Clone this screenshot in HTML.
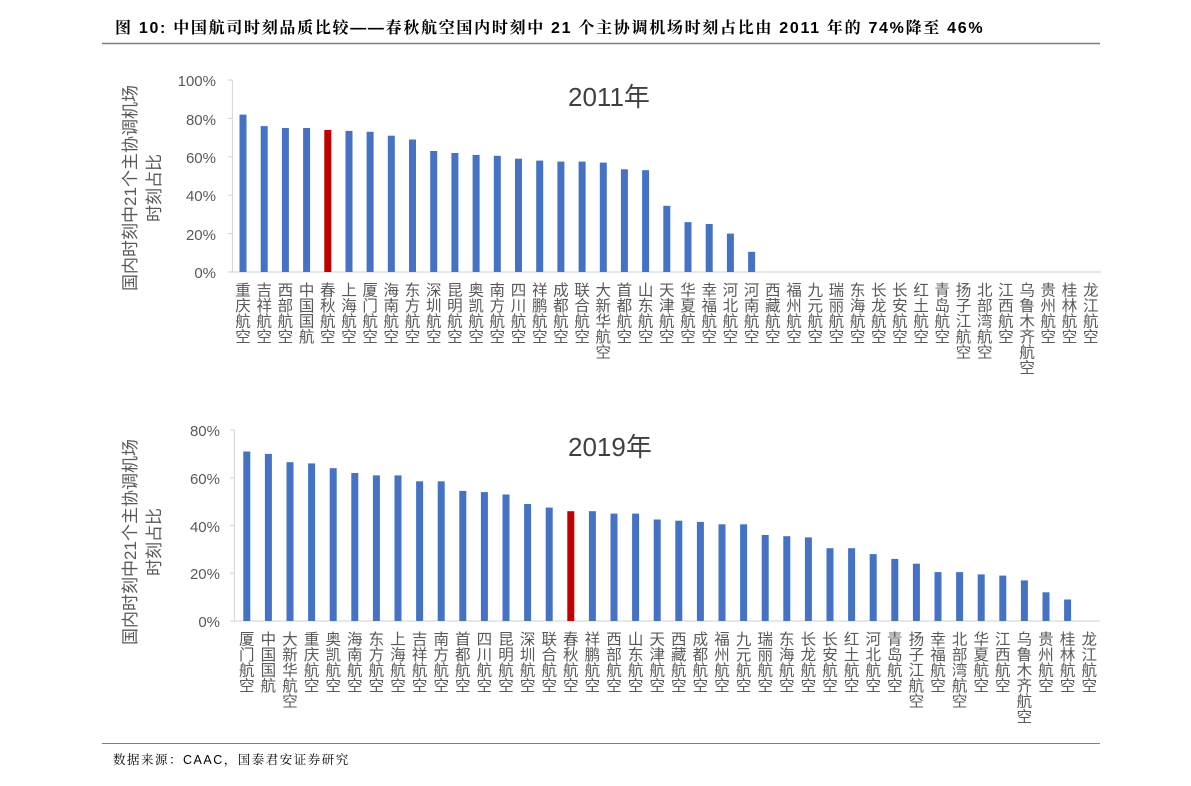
<!DOCTYPE html>
<html><head><meta charset="utf-8"><style>
html,body{margin:0;padding:0;background:#fff;}
svg{display:block;font-family:"Liberation Sans","Noto Sans CJK SC",sans-serif;}
.t{font-size:15px;fill:#595959;text-anchor:end;}
.l{font-size:15.5px;fill:#595959;writing-mode:vertical-rl;font-family:"Noto Sans CJK SC",sans-serif;}
.b{fill:#4472c4;}
.r{fill:#c00000;}
.yt{font-size:17px;fill:#595959;text-anchor:middle;font-family:"Liberation Sans","Noto Sans CJK SC",sans-serif;}
.ct{font-size:26px;fill:#404040;font-family:"Liberation Sans","Noto Sans CJK SC",sans-serif;}
</style></head><body>
<svg width="1191" height="786" viewBox="0 0 1191 786" xmlns="http://www.w3.org/2000/svg">
<text x="115" y="33" style="font-size:16px;font-weight:bold;fill:#000;letter-spacing:1.7px;font-family:'Liberation Sans','Noto Serif CJK SC',sans-serif">图 10:  中国航司时刻品质比较——春秋航空国内时刻中 21 个主协调机场时刻占比由 2011 年的 74%降至 46%</text>
<line x1="102" y1="43.5" x2="1100" y2="43.5" stroke="#7f7f7f" stroke-width="1.5"/>
<line x1="102" y1="743.5" x2="1100" y2="743.5" stroke="#7f7f7f" stroke-width="1"/>
<text x="113" y="764" style="font-size:12.5px;fill:#000;letter-spacing:1.5px;font-family:'Liberation Sans','Noto Serif CJK SC',sans-serif">数据来源：CAAC，国泰君安证券研究</text>

<!-- Chart 1 -->
<g transform="translate(136,188) rotate(-90)"><text class="yt" x="0" y="0">国内时刻中21个主协调机场</text><text class="yt" x="0" y="24">时刻占比</text></g>
<text class="t" x="216" y="86">100%</text><text class="t" x="216" y="125">80%</text><text class="t" x="216" y="163">60%</text><text class="t" x="216" y="201">40%</text><text class="t" x="216" y="240">20%</text><text class="t" x="216" y="278">0%</text>
<path d="M232.5 80V272M228 80H232.5M228 118.4H232.5M228 156.8H232.5M228 195.2H232.5M228 233.6H232.5M228 272H1101" stroke="#d9d9d9" stroke-width="1.2" fill="none"/>
<text class="ct" x="568" y="106">2011年</text>
<rect class="b" x="239.5" y="114.6" width="7" height="157.4"/>
<rect class="b" x="260.7" y="126.1" width="7" height="145.9"/>
<rect class="b" x="281.9" y="128" width="7" height="144"/>
<rect class="b" x="303.1" y="128" width="7" height="144"/>
<rect class="r" x="324.3" y="129.9" width="7" height="142.1"/>
<rect class="b" x="345.5" y="130.9" width="7" height="141.1"/>
<rect class="b" x="366.6" y="131.8" width="7" height="140.2"/>
<rect class="b" x="387.8" y="135.7" width="7" height="136.3"/>
<rect class="b" x="409" y="139.5" width="7" height="132.5"/>
<rect class="b" x="430.2" y="151" width="7" height="121"/>
<rect class="b" x="451.4" y="153" width="7" height="119"/>
<rect class="b" x="472.6" y="154.9" width="7" height="117.1"/>
<rect class="b" x="493.8" y="155.8" width="7" height="116.2"/>
<rect class="b" x="515" y="158.7" width="7" height="113.3"/>
<rect class="b" x="536.2" y="160.6" width="7" height="111.4"/>
<rect class="b" x="557.4" y="161.6" width="7" height="110.4"/>
<rect class="b" x="578.6" y="161.6" width="7" height="110.4"/>
<rect class="b" x="599.8" y="162.6" width="7" height="109.4"/>
<rect class="b" x="620.9" y="169.3" width="7" height="102.7"/>
<rect class="b" x="642.1" y="170.2" width="7" height="101.8"/>
<rect class="b" x="663.3" y="205.8" width="7" height="66.2"/>
<rect class="b" x="684.5" y="222.1" width="7" height="49.9"/>
<rect class="b" x="705.7" y="224" width="7" height="48"/>
<rect class="b" x="726.9" y="233.6" width="7" height="38.4"/>
<rect class="b" x="748.1" y="251.8" width="7" height="20.2"/>
<g>
<text class="l" x="243" y="282">重庆航空</text><text class="l" x="264.2" y="282">吉祥航空</text><text class="l" x="285.4" y="282">西部航空</text><text class="l" x="306.6" y="282">中国国航</text><text class="l" x="327.8" y="282">春秋航空</text><text class="l" x="349" y="282">上海航空</text><text class="l" x="370.1" y="282">厦门航空</text><text class="l" x="391.3" y="282">海南航空</text><text class="l" x="412.5" y="282">东方航空</text><text class="l" x="433.7" y="282">深圳航空</text><text class="l" x="454.9" y="282">昆明航空</text><text class="l" x="476.1" y="282">奥凯航空</text><text class="l" x="497.3" y="282">南方航空</text><text class="l" x="518.5" y="282">四川航空</text><text class="l" x="539.7" y="282">祥鹏航空</text><text class="l" x="560.9" y="282">成都航空</text><text class="l" x="582.1" y="282">联合航空</text><text class="l" x="603.3" y="282">大新华航空</text><text class="l" x="624.4" y="282">首都航空</text><text class="l" x="645.6" y="282">山东航空</text><text class="l" x="666.8" y="282">天津航空</text><text class="l" x="688" y="282">华夏航空</text><text class="l" x="709.2" y="282">幸福航空</text><text class="l" x="730.4" y="282">河北航空</text><text class="l" x="751.6" y="282">河南航空</text><text class="l" x="772.8" y="282">西藏航空</text><text class="l" x="794" y="282">福州航空</text><text class="l" x="815.2" y="282">九元航空</text><text class="l" x="836.4" y="282">瑞丽航空</text><text class="l" x="857.6" y="282">东海航空</text><text class="l" x="878.7" y="282">长龙航空</text><text class="l" x="899.9" y="282">长安航空</text><text class="l" x="921.1" y="282">红土航空</text><text class="l" x="942.3" y="282">青岛航空</text><text class="l" x="963.5" y="282">扬子江航空</text><text class="l" x="984.7" y="282">北部湾航空</text><text class="l" x="1005.9" y="282">江西航空</text><text class="l" x="1027.1" y="282">乌鲁木齐航空</text><text class="l" x="1048.3" y="282">贵州航空</text><text class="l" x="1069.5" y="282">桂林航空</text><text class="l" x="1090.7" y="282">龙江航空</text>
</g>

<!-- Chart 2 -->
<g transform="translate(136,542) rotate(-90)"><text class="yt" x="0" y="0">国内时刻中21个主协调机场</text><text class="yt" x="0" y="24">时刻占比</text></g>
<text class="t" x="220" y="436">80%</text><text class="t" x="220" y="484">60%</text><text class="t" x="220" y="532">40%</text><text class="t" x="220" y="579">20%</text><text class="t" x="220" y="627">0%</text>
<path d="M234.5 430V621M230 430H234.5M230 477.75H234.5M230 525.5H234.5M230 573.25H234.5M230 621H1100" stroke="#d9d9d9" stroke-width="1.2" fill="none"/>
<text class="ct" x="568" y="456">2019年</text>
<rect class="b" x="243.3" y="451.5" width="7" height="169.5"/>
<rect class="b" x="264.9" y="453.9" width="7" height="167.1"/>
<rect class="b" x="286.5" y="462.2" width="7" height="158.8"/>
<rect class="b" x="308.1" y="463.4" width="7" height="157.6"/>
<rect class="b" x="329.7" y="468.2" width="7" height="152.8"/>
<rect class="b" x="351.3" y="473" width="7" height="148"/>
<rect class="b" x="372.9" y="475.4" width="7" height="145.6"/>
<rect class="b" x="394.5" y="475.4" width="7" height="145.6"/>
<rect class="b" x="416.1" y="481.3" width="7" height="139.7"/>
<rect class="b" x="437.7" y="481.3" width="7" height="139.7"/>
<rect class="b" x="459.3" y="490.9" width="7" height="130.1"/>
<rect class="b" x="480.9" y="492.1" width="7" height="128.9"/>
<rect class="b" x="502.5" y="494.5" width="7" height="126.5"/>
<rect class="b" x="524.1" y="504" width="7" height="117"/>
<rect class="b" x="545.7" y="507.6" width="7" height="113.4"/>
<rect class="r" x="567.3" y="511.2" width="7" height="109.8"/>
<rect class="b" x="588.9" y="511.2" width="7" height="109.8"/>
<rect class="b" x="610.5" y="513.6" width="7" height="107.4"/>
<rect class="b" x="632.1" y="513.6" width="7" height="107.4"/>
<rect class="b" x="653.7" y="519.5" width="7" height="101.5"/>
<rect class="b" x="675.3" y="520.7" width="7" height="100.3"/>
<rect class="b" x="696.9" y="521.9" width="7" height="99.1"/>
<rect class="b" x="718.5" y="524.3" width="7" height="96.7"/>
<rect class="b" x="740.1" y="524.3" width="7" height="96.7"/>
<rect class="b" x="761.7" y="535" width="7" height="86"/>
<rect class="b" x="783.3" y="536.2" width="7" height="84.8"/>
<rect class="b" x="804.9" y="537.4" width="7" height="83.6"/>
<rect class="b" x="826.5" y="548.2" width="7" height="72.8"/>
<rect class="b" x="848.1" y="548.2" width="7" height="72.8"/>
<rect class="b" x="869.7" y="554.1" width="7" height="66.9"/>
<rect class="b" x="891.3" y="558.9" width="7" height="62.1"/>
<rect class="b" x="912.9" y="563.7" width="7" height="57.3"/>
<rect class="b" x="934.5" y="572.1" width="7" height="48.9"/>
<rect class="b" x="956.1" y="572.1" width="7" height="48.9"/>
<rect class="b" x="977.7" y="574.4" width="7" height="46.6"/>
<rect class="b" x="999.3" y="575.6" width="7" height="45.4"/>
<rect class="b" x="1020.9" y="580.4" width="7" height="40.6"/>
<rect class="b" x="1042.5" y="592.3" width="7" height="28.7"/>
<rect class="b" x="1064.1" y="599.5" width="7" height="21.5"/>
<g>
<text class="l" x="246.8" y="631">厦门航空</text><text class="l" x="268.4" y="631">中国国航</text><text class="l" x="290" y="631">大新华航空</text><text class="l" x="311.6" y="631">重庆航空</text><text class="l" x="333.2" y="631">奥凯航空</text><text class="l" x="354.8" y="631">海南航空</text><text class="l" x="376.4" y="631">东方航空</text><text class="l" x="398" y="631">上海航空</text><text class="l" x="419.6" y="631">吉祥航空</text><text class="l" x="441.2" y="631">南方航空</text><text class="l" x="462.8" y="631">首都航空</text><text class="l" x="484.4" y="631">四川航空</text><text class="l" x="506" y="631">昆明航空</text><text class="l" x="527.6" y="631">深圳航空</text><text class="l" x="549.2" y="631">联合航空</text><text class="l" x="570.8" y="631">春秋航空</text><text class="l" x="592.4" y="631">祥鹏航空</text><text class="l" x="614" y="631">西部航空</text><text class="l" x="635.6" y="631">山东航空</text><text class="l" x="657.2" y="631">天津航空</text><text class="l" x="678.8" y="631">西藏航空</text><text class="l" x="700.4" y="631">成都航空</text><text class="l" x="722" y="631">福州航空</text><text class="l" x="743.6" y="631">九元航空</text><text class="l" x="765.2" y="631">瑞丽航空</text><text class="l" x="786.8" y="631">东海航空</text><text class="l" x="808.4" y="631">长龙航空</text><text class="l" x="830" y="631">长安航空</text><text class="l" x="851.6" y="631">红土航空</text><text class="l" x="873.2" y="631">河北航空</text><text class="l" x="894.8" y="631">青岛航空</text><text class="l" x="916.4" y="631">扬子江航空</text><text class="l" x="938" y="631">幸福航空</text><text class="l" x="959.6" y="631">北部湾航空</text><text class="l" x="981.2" y="631">华夏航空</text><text class="l" x="1002.8" y="631">江西航空</text><text class="l" x="1024.4" y="631">乌鲁木齐航空</text><text class="l" x="1046" y="631">贵州航空</text><text class="l" x="1067.6" y="631">桂林航空</text><text class="l" x="1089.2" y="631">龙江航空</text>
</g>
</svg>
</body></html>
